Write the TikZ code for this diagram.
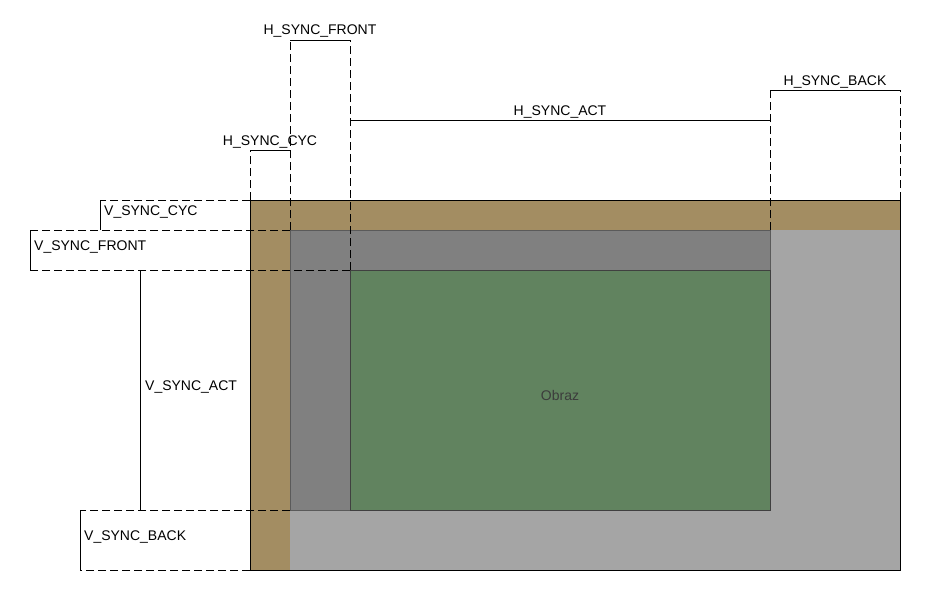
\documentclass[tikz,border=0pt]{standalone}
\usepackage{fontspec}
\setmainfont{Liberation Sans}
\definecolor{brownc}{RGB}{163,141,98}
\definecolor{lgrayc}{RGB}{165,165,165}
\definecolor{dgrayc}{RGB}{128,128,128}
\definecolor{dgrayline}{RGB}{90,90,90}
\definecolor{greenc}{RGB}{97,131,95}
\definecolor{greenline}{RGB}{64,64,64}
\definecolor{obrazc}{RGB}{60,60,60}
\begin{document}
\begin{tikzpicture}[x=1pt,y=-1pt,
  lbl/.style={font=\fontsize{14}{16}\selectfont, inner sep=0pt},
  dsh/.style={dash pattern=on 8pt off 4pt, line width=0.9pt},
  sol/.style={line width=0.9pt}]
\useasboundingbox (0,0) rectangle (940,610);
% areas
\coordinate (outTL) at (250,200);
\coordinate (outBR) at (900,570);
\coordinate (lgTL) at (290,230);
\coordinate (dgBR) at (770,510);
\coordinate (grTL) at (350,270);
\fill[brownc] (outTL) rectangle (outBR);
\fill[lgrayc] (lgTL) rectangle (outBR);
\filldraw[fill=dgrayc, draw=dgrayline, line width=0.9pt] (lgTL) rectangle (dgBR);
\filldraw[fill=greenc, draw=greenline, line width=0.9pt] (grTL) rectangle (dgBR);
\node[lbl, text=obrazc] (obraz) at (560,395) {Obraz};
\draw[black, line width=1pt] (outTL) rectangle (outBR);
% horizontal markers
\coordinate (hc1b) at (250,200); \coordinate (hc1t) at (250,150);
\coordinate (hc2b) at (290,230); \coordinate (hc2t) at (290,150);
\draw[dsh] (hc1b) -- (hc1t);
\draw[dsh] (hc2b) -- (hc2t);
\draw[sol] (hc1t) -- (hc2t);
\node[lbl, anchor=base] (hcyc) at (270,145) {H\_SYNC\_CYC};

\coordinate (hf1b) at (290,230); \coordinate (hf1t) at (290,40);
\coordinate (hf2b) at (350,270); \coordinate (hf2t) at (350,40);
\draw[dsh] (hf1b) -- (hf1t);
\draw[dsh] (hf2b) -- (hf2t);
\draw[sol] (hf1t) -- (hf2t);
\node[lbl, anchor=base] (hfront) at (320,35) {H\_SYNC\_FRONT};

\coordinate (ha1) at (350,120); \coordinate (ha2) at (770,120);
\draw[sol] (ha1) -- (ha2);
\node[lbl, anchor=base] (hact) at (560,115) {H\_SYNC\_ACT};

\coordinate (hb1b) at (770,230); \coordinate (hb1t) at (770,90);
\coordinate (hb2b) at (900,200); \coordinate (hb2t) at (900,90);
\draw[dsh] (hb1b) -- (hb1t);
\draw[dsh] (hb2b) -- (hb2t);
\draw[sol] (hb1t) -- (hb2t);
\node[lbl, anchor=base] (hback) at (835,85) {H\_SYNC\_BACK};
% vertical markers
\coordinate (vc1r) at (250,200); \coordinate (vc1l) at (100,200);
\coordinate (vc2r) at (290,230); \coordinate (vc2l) at (100,230);
\draw[dsh] (vc1r) -- (vc1l);
\draw[sol] (vc1l) -- (vc2l);
\node[lbl, anchor=base west] (vcyc) at (104,215) {V\_SYNC\_CYC};

\coordinate (vf1l) at (30,230);
\coordinate (vf2r) at (350,270); \coordinate (vf2l) at (30,270);
\draw[dsh] (vc2r) -- (vf1l);
\draw[dsh] (vf2r) -- (vf2l);
\draw[sol] (vf1l) -- (vf2l);
\node[lbl, anchor=base west] (vfront) at (34,250) {V\_SYNC\_FRONT};

\coordinate (va1) at (140,270); \coordinate (va2) at (140,510);
\draw[sol] (va1) -- (va2);
\node[lbl, anchor=base west] (vact) at (145,390) {V\_SYNC\_ACT};

\coordinate (vb1r) at (290,510); \coordinate (vb1l) at (80,510);
\coordinate (vb2r) at (250,570); \coordinate (vb2l) at (80,570);
\draw[dsh] (vb1r) -- (vb1l);
\draw[dsh] (vb2r) -- (vb2l);
\draw[sol] (vb1l) -- (vb2l);
\node[lbl, anchor=base west] (vback) at (84,540) {V\_SYNC\_BACK};
\end{tikzpicture}
\end{document}
